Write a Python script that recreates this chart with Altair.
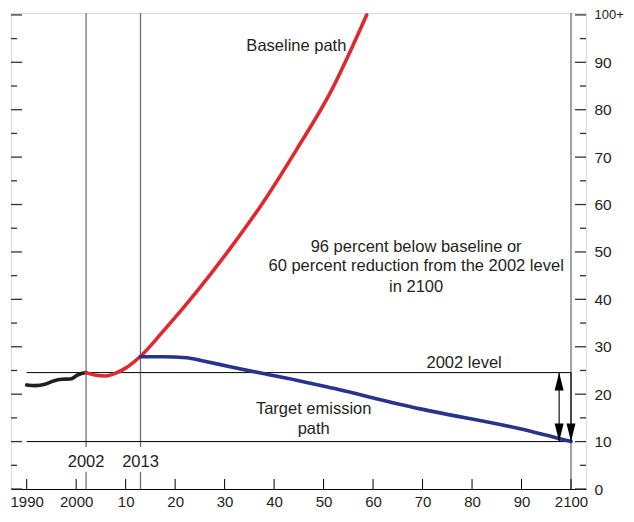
import altair as alt
import pandas as pd

# ---------------- data ----------------
hist_years = [1990, 1991.7, 1993.7, 1995.4, 1997.1, 1998.8, 2000.4, 2002]
hist_values = [21.95, 21.8, 22.1, 22.8, 23.15, 23.2, 24.1, 24.55]

base_years = [2002, 2004, 2006, 2008, 2010, 2013, 2017.6, 2024.4, 2031.1, 2037.8, 2044.6, 2051.3, 2058.7]
base_values = [24.55, 24.0, 23.85, 24.45, 25.5, 28.0, 33.3, 41.7, 50.7, 60.5, 71.7, 83.5, 100.0]

target_years = [2013, 2017.6, 2022.3, 2025.7, 2031.1, 2037.8, 2044.5, 2050.6, 2069.5, 2089.7, 2100]
target_values = [27.9, 27.9, 27.7, 27.0, 25.8, 24.35, 22.95, 21.55, 16.9, 12.7, 10.0]

level_2002 = 24.55
level_2100 = 10.0
ref_start, ref_end = 1990, 2100
marker_years = [2002, 2013]
marker_labels = ["2002", "2013"]
arrow_years = [2097.6, 2100]

x_tick_values = [1990, 2000, 2010, 2020, 2030, 2040, 2050, 2060, 2070, 2080, 2090, 2100]
x_tick_labels = ["1990", "2000", "10", "20", "30", "40", "50", "60", "70", "80", "90", "2100"]
y_major_values = [0, 10, 20, 30, 40, 50, 60, 70, 80, 90, 100]
y_major_labels = ["0", "10", "20", "30", "40", "50", "60", "70", "80", "90", "100+"]
y_minor_values = [5, 15, 25, 35, 45, 55, 65, 75, 85, 95]

notes_text = ["Baseline path", "96 percent below baseline or",
              "60 percent reduction from the 2002 level", "in 2100",
              "2002 level", "Target emission", "path"]
notes_x = [2044.5, 2068.7, 2068.7, 2068.7, 2078.4, 2048.0, 2048.0]
notes_y = [92.3, 50.0, 45.9, 41.5, 25.5, 15.8, 11.5]

# ---------------- settings ----------------
W, H = 575, 476
X_DOM = [1986.83, 2103.03]
Y_DOM = [0, 100.4]
FONT = "Liberation Sans, Arial, sans-serif"
TXT = "#231f20"

xs = alt.Scale(domain=X_DOM, nice=False, zero=False)
ys = alt.Scale(domain=Y_DOM, nice=False, zero=False)


def lbl_expr(vals, labels):
    expr = "''"
    for v, l in reversed(list(zip(vals, labels))):
        expr = f"datum.value == {v} ? '{l}' : ({expr})"
    return expr


x_axis = alt.Axis(
    values=x_tick_values, labelExpr=lbl_expr(x_tick_values, x_tick_labels),
    ticks=False, tickSize=0, domain=True, domainColor="#000000", domainWidth=1,
    grid=False, labelPadding=5, labelFontSize=15, labelFont=FONT, labelColor=TXT,
    title=None, labelFlush=False, labelBaseline="top")
y_axis = alt.Axis(
    orient="right", values=y_major_values,
    labelExpr=lbl_expr(y_major_values, y_major_labels),
    ticks=False, tickSize=0, domain=False, grid=False, labelPadding=8,
    labelFontSize={"condition": {"test": "datum.value == 100", "value": 13}, "value": 15.5},
    labelFont=FONT, labelColor=TXT, title=None, labelFlush=False)

X = lambda f="x": alt.X(f"{f}:Q", scale=xs, axis=x_axis)
Y = lambda f="y": alt.Y(f"{f}:Q", scale=ys, axis=y_axis)

hist_df = pd.DataFrame({"x": hist_years, "y": hist_values})
base_df = pd.DataFrame({"x": base_years, "y": base_values})
target_df = pd.DataFrame({"x": target_years, "y": target_values})

# inner x ticks
xt_df = pd.DataFrame({"x": x_tick_values})
x_ticks = alt.Chart(xt_df).mark_rule(color="#000000", strokeWidth=1).encode(
    x=X(), y=alt.value(H), y2=alt.value(H - 10))

# y ticks both sides
maj_df = pd.DataFrame({"y": y_major_values})
min_df = pd.DataFrame({"y": y_minor_values})
tk = dict(color="#333333", strokeWidth=1.3)
lt_major = alt.Chart(maj_df).mark_rule(**tk).encode(y=Y(), x=alt.value(0), x2=alt.value(11))
lt_minor = alt.Chart(min_df).mark_rule(**tk).encode(y=Y(), x=alt.value(0), x2=alt.value(6))
rt_major = alt.Chart(maj_df).mark_rule(**tk).encode(y=Y(), x=alt.value(W - 11), x2=alt.value(W))
rt_minor = alt.Chart(min_df).mark_rule(**tk).encode(y=Y(), x=alt.value(W - 6), x2=alt.value(W))

# vertical reference lines (broken where the year labels sit)
top_v = Y_DOM[1]
seg_df = pd.DataFrame({
    "x": [marker_years[0], marker_years[0], marker_years[1], marker_years[1], ref_end],
    "y": [top_v, 3.62, top_v, 3.62, top_v],
    "y2": [8.86, 0, 8.86, 0, 0],
})
vlines = alt.Chart(seg_df).mark_rule(color="#707070", strokeWidth=1.3).encode(
    x=X(), y=Y(), y2="y2:Q")

# horizontal reference lines
h_df = pd.DataFrame({"x": [ref_start, ref_start], "x2": [ref_end, ref_end],
                     "y": [level_2002, level_2100]})
hlines = alt.Chart(h_df).mark_rule(color="#000000", strokeWidth=1).encode(
    x=X(), x2="x2:Q", y=Y())

# series lines
lw = 3.6
hist = alt.Chart(hist_df).mark_line(color="#231f20", strokeWidth=lw, interpolate="monotone",
                                    strokeCap="round").encode(x=X(), y=Y())
base = alt.Chart(base_df).mark_line(color="#e0282e", strokeWidth=lw, interpolate="monotone",
                                    strokeCap="round").encode(x=X(), y=Y())
target = alt.Chart(target_df).mark_line(color="#27348b", strokeWidth=lw, interpolate="monotone",
                                        strokeCap="round").encode(x=X(), y=Y())

# arrows
arr_df = pd.DataFrame({"x": arrow_years, "y": [level_2002] * 2, "y2": [level_2100] * 2})
arrow_shafts = alt.Chart(arr_df).mark_rule(color="#000000", strokeWidth=1.1).encode(
    x=X(), y=Y(), y2="y2:Q")
down_df = pd.DataFrame({"x": arrow_years, "y": [level_2100] * 2})
up_df = pd.DataFrame({"x": [arrow_years[0]], "y": [level_2002]})
down_heads = alt.Chart(down_df).mark_point(
    shape="M0,0 L-0.25,-1 L0.25,-1 Z", size=1296, filled=True, color="#000000", opacity=1,
    strokeWidth=0).encode(x=X(), y=Y())
up_heads = alt.Chart(up_df).mark_point(
    shape="M0,0 L-0.25,1 L0.25,1 Z", size=1296, filled=True, color="#000000", opacity=1,
    strokeWidth=0).encode(x=X(), y=Y())

# annotations
notes_df = pd.DataFrame({"t": notes_text, "x": notes_x, "y": notes_y})
notes = alt.Chart(notes_df).mark_text(font=FONT, fontSize=16.5, color=TXT, align="center",
                                      baseline="alphabetic").encode(x=X(), y=Y(), text="t:N")
mk_df = pd.DataFrame({"t": marker_labels, "x": marker_years, "y": [4.67, 4.67]})
mk = alt.Chart(mk_df).mark_text(font=FONT, fontSize=16.5, color=TXT, align="center",
                                baseline="alphabetic").encode(x=X(), y=Y(), text="t:N")

chart = alt.layer(
    vlines, hlines, x_ticks, lt_major, lt_minor, rt_major, rt_minor,
    hist, base, target, arrow_shafts, down_heads, up_heads, notes, mk
).properties(
    width=W, height=H,
    autosize=alt.AutoSizeParams(type="none"),
    padding={"left": 3, "top": 5, "right": 40, "bottom": 20},
).configure_view(stroke=None).configure(background="white")

chart.save("out.html", embed_options={"renderer": "svg", "actions": False})
